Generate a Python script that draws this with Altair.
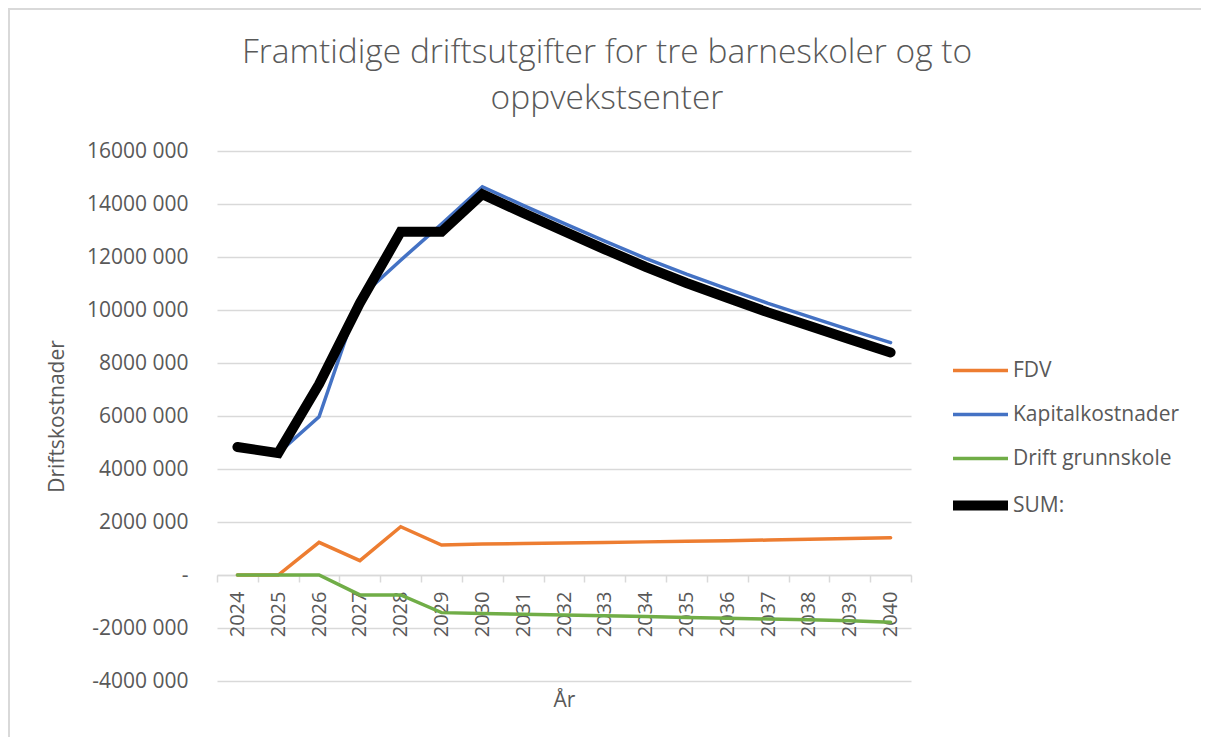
import altair as alt
import pandas as pd

years = list(range(2024, 2041))
series_names = ["FDV", "Kapitalkostnader", "Drift grunnskole", "SUM:"]
series_colors = ["#ED7D31", "#4472C4", "#70AD47", "#000000"]
series_widths = [3.5, 3.5, 3.5, 10]

fdv = [0, 0, 1230000, 540000, 1820000, 1130000, 1170000, 1190000, 1210000,
       1230000, 1250000, 1270000, 1290000, 1320000, 1350000, 1380000, 1410000]
kapital = [4830000, 4600000, 5970000, 10470000, 11880000, 13240000, 14650000,
           13950000, 13270000, 12600000, 11950000, 11350000, 10800000,
           10250000, 9750000, 9250000, 8770000]
drift = [0, 0, 0, -750000, -750000, -1420000, -1450000, -1480000, -1510000,
         -1540000, -1570000, -1600000, -1630000, -1660000, -1690000,
         -1730000, -1780000]
total = [4830000, 4600000, 7200000, 10260000, 12950000, 12950000, 14370000,
         13660000, 12970000, 12290000, 11630000, 11020000, 10460000,
         9910000, 9410000, 8900000, 8400000]

y_ticks = list(range(-4000000, 16000001, 2000000))
x_tick_edges = [y - 0.5 for y in years] + [2040.5]

title_lines = ["Framtidige driftsutgifter for tre barneskoler og to", "oppvekstsenter"]
x_title = "År"
y_title = "Driftskostnader"

rows = []
for name, vals in zip(series_names, [fdv, kapital, drift, total]):
    for yr, v in zip(years, vals):
        rows.append({"year": yr, "value": v, "series": name})
df = pd.DataFrame(rows)

FONT = "Open Sans"
GREY = "#595959"
GRID = "#d9d9d9"

x_scale = alt.Scale(domain=[2023.5, 2040.5], nice=False, zero=False)
y_scale = alt.Scale(domain=[-4000000, 16000000], nice=False, zero=False)

y_label_expr = ("datum.value == 0 ? '-\u00a0\u00a0' : "
                "(datum.value < 0 ? '-' : '') + format(abs(datum.value)/1000, 'd') + ' 000'")


def make_legend():
    return alt.Legend(title=None, orient="none", legendX=731, legendY=190,
                      symbolType="stroke", symbolSize=3025,
                      labelFont=FONT, labelFontSize=21, labelColor=GREY,
                      labelOffset=0, rowPadding=4, labelLimit=400)


lines = alt.Chart(df).mark_line(strokeCap="round").encode(
    x=alt.X("year:Q", scale=x_scale,
            axis=alt.Axis(values=x_tick_edges, labels=False, ticks=True, tickSize=7,
                          tickColor=GRID, tickWidth=1.5, domain=True, domainColor=GRID,
                          domainWidth=1.5, grid=False, offset=-106, title=None,
                          orient="bottom")),
    y=alt.Y("value:Q", scale=y_scale,
            axis=alt.Axis(values=y_ticks, labelExpr=y_label_expr, domain=False, ticks=False,
                          grid=True, gridColor=GRID, gridWidth=1.5, labelFont=FONT,
                          labelFontSize=21, labelColor=GREY, labelPadding=29,
                          title=y_title, titleFont=FONT, titleFontSize=21,
                          titleFontWeight="normal", titleColor=GREY, titleAngle=270,
                          titleX=-160, titleY=265, titleAlign="center",
                          titleBaseline="middle")),
    color=alt.Color("series:N",
                    scale=alt.Scale(domain=series_names, range=series_colors),
                    legend=make_legend()),
    strokeWidth=alt.StrokeWidth("series:O",
                                scale=alt.Scale(type="ordinal", domain=series_names,
                                                range=series_widths),
                                legend=make_legend()),
)

labels_layer = alt.Chart(df).mark_point(opacity=0).encode(
    x=alt.X("year:Q", scale=x_scale,
            axis=alt.Axis(values=years, format="d", labels=True, ticks=False, tickSize=0,
                          domain=False, grid=False, offset=-106, labelAngle=270,
                          labelFont=FONT, labelFontSize=20, labelColor=GREY,
                          labelPadding=16, title=x_title, titleFont=FONT,
                          titleFontSize=21, titleFontWeight="normal", titleColor=GREY,
                          titleY=125, titleBaseline="middle", orient="bottom",
                          labelOverlap=False)),
    y=alt.Y("value:Q", scale=y_scale),
)

border_top = alt.Chart(alt.Data(values=[{}])).mark_rule(color=GRID, strokeWidth=2).encode(
    x=alt.value(-209), x2=alt.value(990), y=alt.value(-142))
border_left = alt.Chart(alt.Data(values=[{}])).mark_rule(color=GRID, strokeWidth=2).encode(
    x=alt.value(-208), y=alt.value(-143), y2=alt.value(600))

chart = alt.layer(border_top, border_left, lines, labels_layer).resolve_axis(
    x="independent").properties(
    width=694,
    height=530,
    autosize=alt.AutoSizeParams(type="none"),
    padding={"left": 209, "top": 143, "right": 290, "bottom": 56},
    title=alt.TitleParams(text=title_lines, font=FONT, fontSize=33.5, fontWeight=300,
                          color=GREY, anchor="middle", frame="group", dx=43, dy=179,
                          lineHeight=46, baseline="bottom", offset=37),
).configure_view(stroke=None)

chart.save("out.html", embed_options={"renderer": "svg", "actions": False})
